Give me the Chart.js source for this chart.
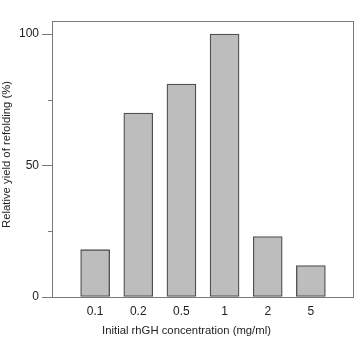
<!DOCTYPE html>
<html><head><meta charset="utf-8">
<script src="https://cdn.jsdelivr.net/npm/chart.js@4.4.1/dist/chart.umd.min.js"></script>
<style>html,body{margin:0;padding:0;background:#fff}#w{width:361px;height:338px;position:relative}</style>
</head><body><div id="w"><canvas id="c"></canvas></div>
<script>
const categories = ['', '0.1', '0.2', '0.5', '1', '2', '5', ''];
const yieldValues = [null, 18, 70, 81, 100, 23, 12, null];
const majorTicks = [0, 50, 100];
const minorTicks = [25, 75];
const xTitle = 'Initial rhGH concentration (mg/ml)';
const yTitle = 'Relative yield of refolding (%)';

const FONT = "'Liberation Sans', Arial, sans-serif";

const framePlugin = {
  id: 'frame',
  beforeDraw(chart) {
    // nudge axis-title placement only; restored before datasets are drawn
    chart.scales.x.left -= 33;
    chart.scales.y.bottom -= 9;
  },
  beforeDatasetsDraw(chart) {
    chart.scales.x.left += 33;
    chart.scales.y.bottom += 9;
  },
  afterDatasetsDraw(chart) {
    const {ctx, chartArea: a, scales: {y}} = chart;
    ctx.save();
    ctx.strokeStyle = '#7a7a7a';
    ctx.lineWidth = 1;
    ctx.strokeRect(Math.round(a.left) + 0.5, Math.round(a.top) + 0.5,
      Math.round(a.right - a.left) - 1, Math.round(a.bottom - a.top));
    ctx.beginPath();
    minorTicks.forEach(v => {
      const py = Math.round(y.getPixelForValue(v)) + 0.5;
      ctx.moveTo(a.left - 4, py);
      ctx.lineTo(a.left, py);
    });
    ctx.stroke();
    ctx.restore();
  }
};

new Chart(document.getElementById('c'), {
  type: 'bar',
  data: {
    labels: categories,
    datasets: [{
      data: yieldValues,
      backgroundColor: '#bdbdbd',
      borderColor: '#505050',
      borderWidth: 1.3,
      borderSkipped: false,
      barThickness: 29
    }]
  },
  options: {
    responsive: true,
    maintainAspectRatio: false,
    animation: false,
    layout: {padding: {top: 21, right: 4, left: 0, bottom: 0}},
    plugins: {legend: {display: false}, tooltip: {enabled: false}},
    scales: {
      x: {
        offset: false,
        grid: {display: false, drawTicks: false},
        border: {display: false},
        ticks: {color: '#222', font: {family: FONT, size: 12}, padding: 7, maxRotation: 0, autoSkip: false},
        title: {display: true, text: xTitle, color: '#222', font: {family: FONT, size: 11.3}, padding: {top: 0, bottom: 0}},
        afterFit: s => { s.height = 41; }
      },
      y: {
        min: 0, max: 105,
        afterBuildTicks: s => { s.ticks = majorTicks.map(v => ({value: v})); },
        grid: {drawOnChartArea: false, drawTicks: true, tickLength: 10, color: '#7a7a7a'},
        border: {display: false},
        ticks: {color: '#222', font: {family: FONT, size: 12}, padding: 3},
        title: {display: true, text: yTitle, color: '#222', font: {family: FONT, size: 11.3}, padding: {top: 0, bottom: 0}},
        afterFit: s => { s.width = 52; }
      }
    }
  },
  plugins: [framePlugin]
});
</script>
</body></html>
